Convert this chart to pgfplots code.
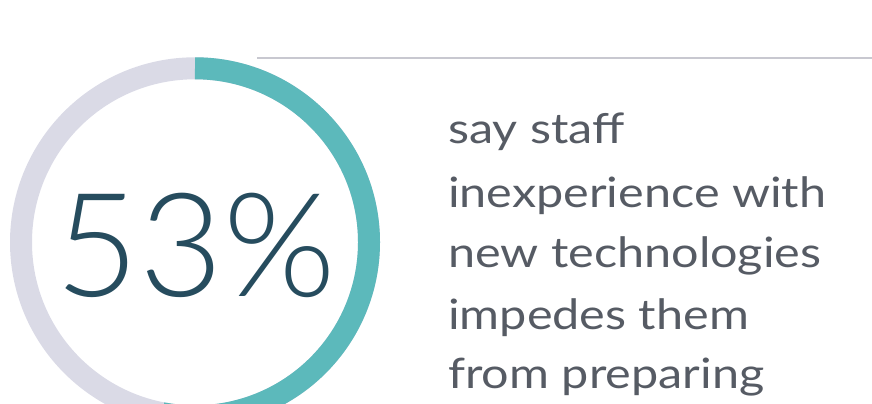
\documentclass[border=0pt]{standalone}
\usepackage{fontspec}
\setmainfont{Lato}
\newfontfamily\lightfont{Lato Light}
\newfontfamily\widefont{Lato}[FakeStretch=1.16]
\usepackage{pgfplots}
\usepackage{pgfplotstable}
\pgfplotsset{compat=1.18}
\definecolor{tealc}{HTML}{5CB9BB}
\definecolor{ringgrey}{HTML}{DADAE6}
\definecolor{bignum}{HTML}{264C5E}
\definecolor{txtgrey}{HTML}{565B64}
\definecolor{rulegrey}{HTML}{C8C8D0}
\pgfplotstableread{
label value
yes 53
no 47
}\donutdata
\pgfplotstablegetelem{0}{value}\of\donutdata
\let\valyes\pgfplotsretval
\begin{document}
\begin{tikzpicture}[x=1bp,y=1bp]
\useasboundingbox (0,0) rectangle (872,403);
\clip (0,0) rectangle (872,403);
\begin{axis}[
  at={(0,0)}, anchor=origin,
  width=872bp, height=403bp, scale only axis,
  xmin=0, xmax=872, ymin=0, ymax=403,
  axis lines=none, clip=false,
]
\pgfmathsetmacro{\endang}{90-3.6*\valyes}
\draw[line width=22bp, ringgrey] (axis cs:195,{160.7+174}) arc[start angle=90, end angle=450, radius=174bp];
\draw[line width=22bp, tealc] (axis cs:195,{160.7+174}) arc[start angle=90, end angle=\endang, radius=174bp];
\draw[line width=2bp, rulegrey] (axis cs:257,345) -- (axis cs:872,345);
\node[anchor=center, text=bignum, font=\lightfont\fontsize{145}{145}\selectfont, inner sep=0pt] at (axis cs:196,158) {53\%};
\begin{scope}[every node/.style={anchor=base west, inner sep=0pt, text=txtgrey, font=\widefont\fontsize{42}{42}\selectfont}]
\node at (axis cs:448,259) {say staff};
\node at (axis cs:448,196) {inexperience with};
\node at (axis cs:448,136) {new technologies};
\node at (axis cs:448,74) {impedes them};
\node at (axis cs:448,15) {from preparing};
\end{scope}
\end{axis}
\end{tikzpicture}
\end{document}
